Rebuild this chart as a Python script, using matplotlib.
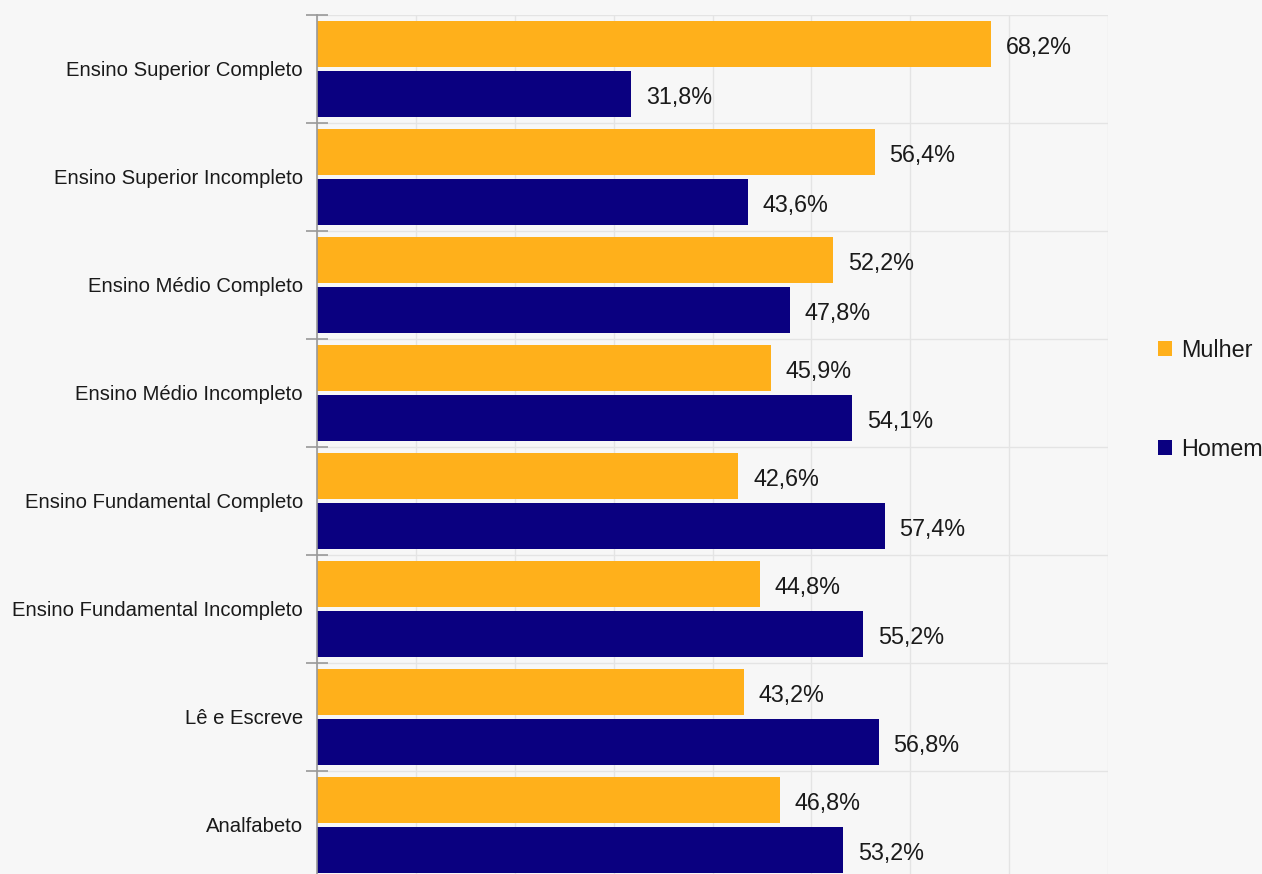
import matplotlib.pyplot as plt
import numpy as np
from matplotlib.patches import Patch

categories = [
    'Ensino Superior Completo',
    'Ensino Superior Incompleto',
    'Ensino Médio Completo',
    'Ensino Médio Incompleto',
    'Ensino Fundamental Completo',
    'Ensino Fundamental Incompleto',
    'Lê e Escreve',
    'Analfabeto',
]
mulher = [68.2, 56.4, 52.2, 45.9, 42.6, 44.8, 43.2, 46.8]
homem = [31.8, 43.6, 47.8, 54.1, 57.4, 55.2, 56.8, 53.2]

bg = '#f7f7f7'
c_mulher = '#ffb01b'
c_homem = '#0a0080'
txt = '#1a1a1a'

plt.rcParams['font.family'] = ['Liberation Sans', 'DejaVu Sans']

fig = plt.figure(figsize=(12.62, 8.74), dpi=100, facecolor=bg)
W, H = 1262, 874
ax = fig.add_axes([317 / W, (874 - 879) / H, (1108 - 317) / W, 864 / H])
ax.set_facecolor(bg)

y = np.arange(len(categories))
h = 0.426
ax.barh(y - 0.235, mulher, height=h, color=c_mulher, label='Mulher', zorder=3)
ax.barh(y + 0.235, homem, height=h, color=c_homem, label='Homem', zorder=3)

# value labels next to bar ends
for i in range(len(categories)):
    ax.text(mulher[i] + 1.5, y[i] - 0.225, f'{mulher[i]:.1f}%'.replace('.', ','),
            va='center_baseline', ha='left', fontsize=16.8, color=txt)
    ax.text(homem[i] + 1.5, y[i] + 0.245, f'{homem[i]:.1f}%'.replace('.', ','),
            va='center_baseline', ha='left', fontsize=16.8, color=txt)

ax.set_xlim(0, 80)
ax.set_ylim(len(categories) - 0.5, -0.5)
ax.set_xticks(np.arange(0, 81, 10))
ax.set_yticks(np.arange(-0.5, len(categories), 1), minor=False)
ax.set_yticklabels([])
ax.set_yticks(y, minor=True)
ax.set_yticklabels(categories, minor=True, fontsize=14.6, color=txt)
ax.tick_params(axis='y', which='minor', length=0, pad=10)
ax.tick_params(axis='y', which='major', direction='inout', length=16,
               color='#999999', width=1.2)
ax.tick_params(axis='x', length=0, labelbottom=False)
ax.grid(True, which='major', color='#e4e4e4', linewidth=1, zorder=0)

for s in ['top', 'right', 'bottom']:
    ax.spines[s].set_visible(False)
ax.spines['left'].set_color('#999999')
ax.spines['left'].set_linewidth(1.2)
ax.spines['left'].set_zorder(4)

handles = [Patch(facecolor=c_mulher, label='Mulher'),
           Patch(facecolor=c_homem, label='Homem')]
fig.legend(handles=handles, loc='center left', bbox_to_anchor=(1137 / W, 1 - 400 / H),
           frameon=False, fontsize=16.8, labelspacing=3.25, handlelength=0.62,
           handleheight=0.62, handletextpad=0.35)
for t in fig.legends[0].get_texts():
    t.set_color(txt)

fig.savefig('out.png', dpi=100, facecolor=bg)
